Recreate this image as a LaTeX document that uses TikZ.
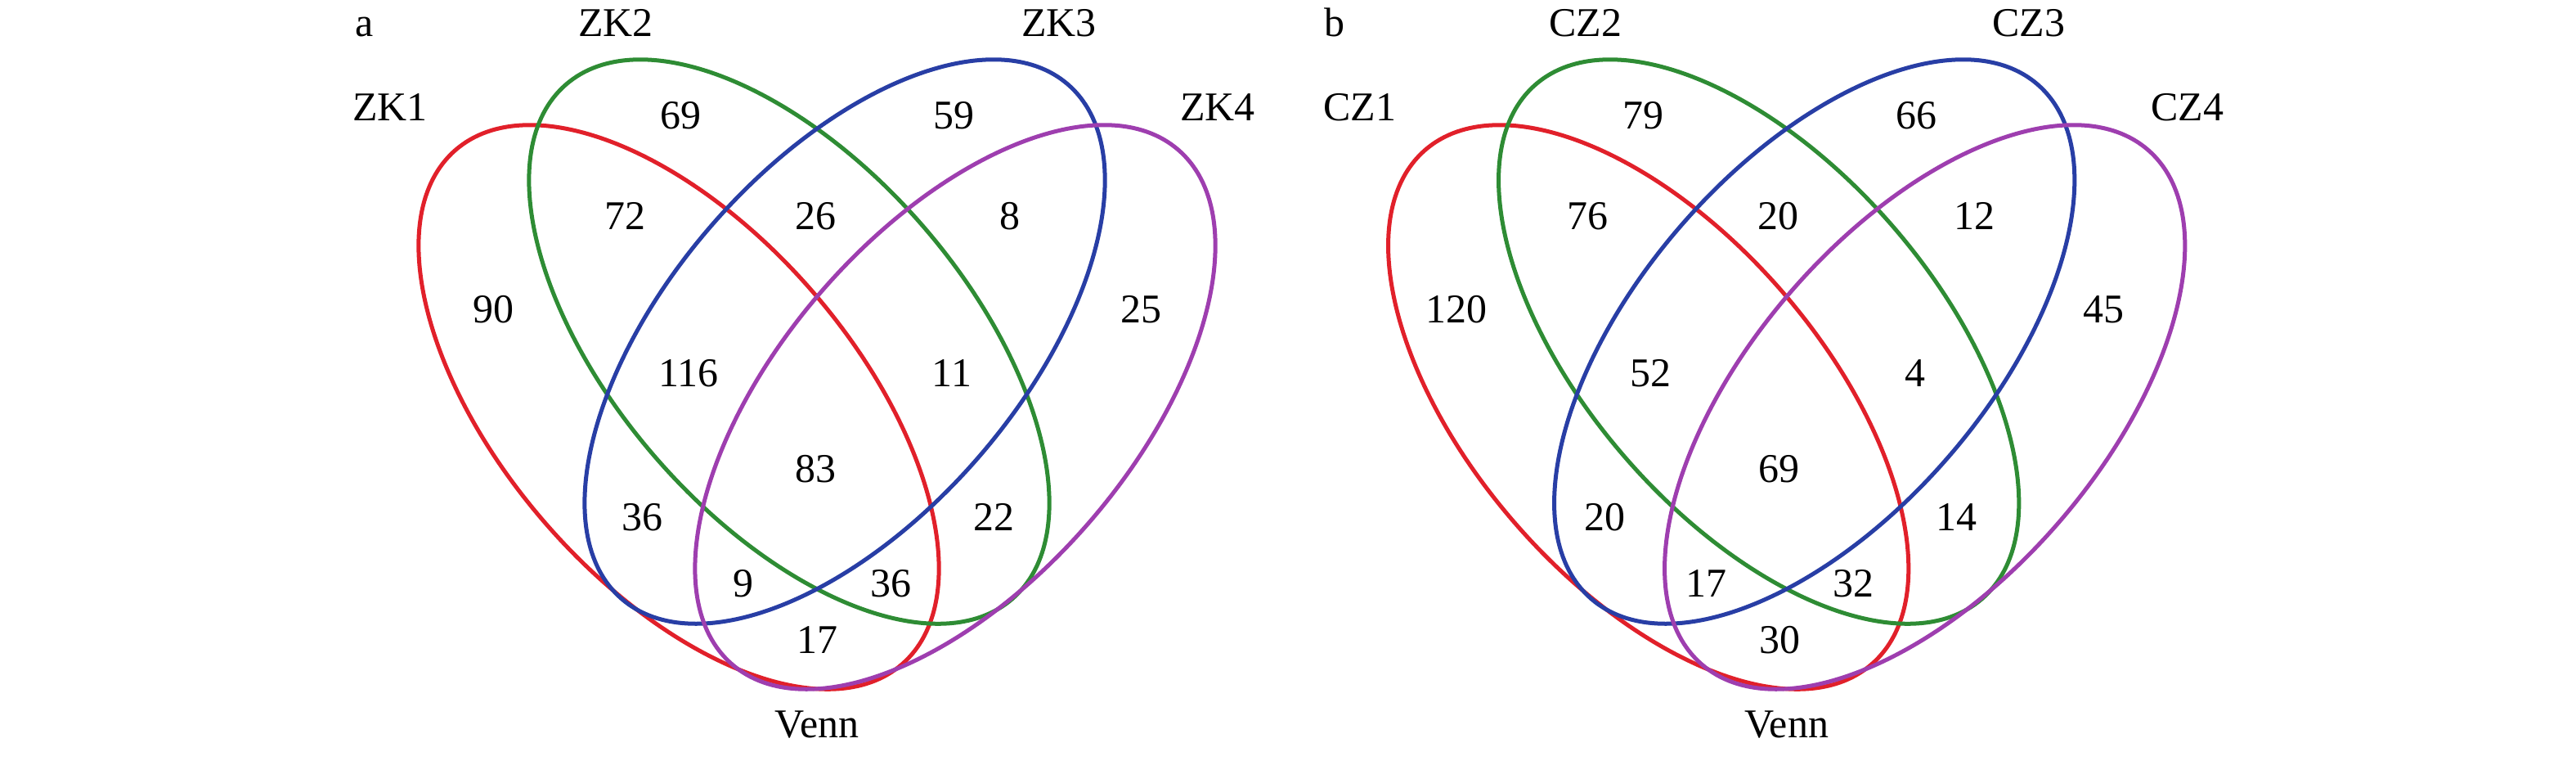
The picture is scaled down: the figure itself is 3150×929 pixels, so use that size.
\documentclass[tikz,border=0pt]{standalone}
\usepackage{fontspec}
\setmainfont{Liberation Serif}
\definecolor{setred}{RGB}{225,32,42}
\definecolor{setgreen}{RGB}{46,140,52}
\definecolor{setblue}{RGB}{40,62,165}
\definecolor{setpurple}{RGB}{158,62,175}

\begin{document}
\begin{tikzpicture}[x=0.01cm,y=-0.01cm,
  every node/.style={font=\fontsize{14.2pt}{17pt}\selectfont,inner sep=0pt},
  setline/.style={line width=0.05cm},
  lbl/.style={anchor=base}]
\useasboundingbox (0,0) rectangle (3150,929);

% panel a
\begin{scope}
\coordinate (a-c1) at (830,497.5);
\coordinate (a-c2) at (965,417.5);
\coordinate (a-c3) at (1033,417.5);
\coordinate (a-c4) at (1168,497.5);

\draw[setline,setred,rotate around={-49:(a-c1)}] (a-c1) ellipse [x radius=4.16cm,y radius=2.16cm];
\draw[setline,setgreen,rotate around={-49:(a-c2)}] (a-c2) ellipse [x radius=4.16cm,y radius=2.16cm];
\draw[setline,setblue,rotate around={49:(a-c3)}] (a-c3) ellipse [x radius=4.16cm,y radius=2.16cm];
\draw[setline,setpurple,rotate around={49:(a-c4)}] (a-c4) ellipse [x radius=4.16cm,y radius=2.16cm];

\node[lbl] (a-tag) at (446,44) {a};
\node[lbl] (a-s1) at (477,147) {ZK1};
\node[lbl] (a-s2) at (753,44) {ZK2};
\node[lbl] (a-s3) at (1295,44) {ZK3};
\node[lbl] (a-s4) at (1489,147) {ZK4};
\node[lbl] (a-title) at (999,901) {Venn};

\node (a-1) at (603,378) {90};
\node (a-2) at (832,141) {69};
\node (a-3) at (1166,141) {59};
\node (a-4) at (1395,378) {25};
\node (a-12) at (764,264) {72};
\node (a-23) at (997,264) {26};
\node (a-34) at (1235,264) {8};
\node (a-123) at (842,456) {116};
\node (a-234) at (1164,456) {11};
\node (a-1234) at (997,573) {83};
\node (a-13) at (785,632) {36};
\node (a-24) at (1215,632) {22};
\node (a-134) at (909,713) {9};
\node (a-124) at (1089,713) {36};
\node (a-14) at (999,782) {17};
\end{scope}

% panel b
\begin{scope}[xshift=11.85cm]
\coordinate (b-c1) at (830,497.5);
\coordinate (b-c2) at (965,417.5);
\coordinate (b-c3) at (1033,417.5);
\coordinate (b-c4) at (1168,497.5);

\draw[setline,setred,rotate around={-49:(b-c1)}] (b-c1) ellipse [x radius=4.16cm,y radius=2.16cm];
\draw[setline,setgreen,rotate around={-49:(b-c2)}] (b-c2) ellipse [x radius=4.16cm,y radius=2.16cm];
\draw[setline,setblue,rotate around={49:(b-c3)}] (b-c3) ellipse [x radius=4.16cm,y radius=2.16cm];
\draw[setline,setpurple,rotate around={49:(b-c4)}] (b-c4) ellipse [x radius=4.16cm,y radius=2.16cm];

\node[lbl] (b-tag) at (446,44) {b};
\node[lbl] (b-s1) at (477,147) {CZ1};
\node[lbl] (b-s2) at (753,44) {CZ2};
\node[lbl] (b-s3) at (1295,44) {CZ3};
\node[lbl] (b-s4) at (1489,147) {CZ4};
\node[lbl] (b-title) at (999,901) {Venn};

\node (b-1) at (595,378) {120};
\node (b-2) at (824,141) {79};
\node (b-3) at (1158,141) {66};
\node (b-4) at (1387,378) {45};
\node (b-12) at (756,264) {76};
\node (b-23) at (989,264) {20};
\node (b-34) at (1229,264) {12};
\node (b-123) at (833,456) {52};
\node (b-234) at (1156,456) {4};
\node (b-1234) at (990,573) {69};
\node (b-13) at (777,632) {20};
\node (b-24) at (1207,632) {14};
\node (b-134) at (901,713) {17};
\node (b-124) at (1081,713) {32};
\node (b-14) at (991,782) {30};
\end{scope}
\end{tikzpicture}
\end{document}
